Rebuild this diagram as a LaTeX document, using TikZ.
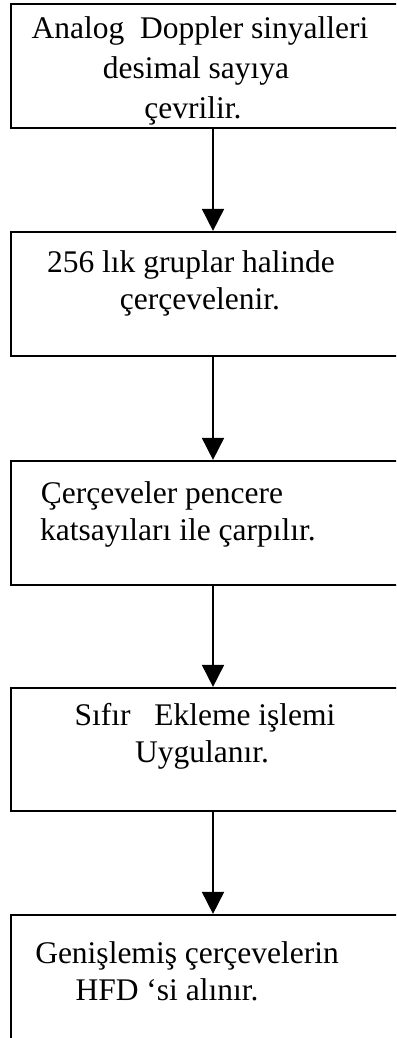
\documentclass[tikz,border=0pt]{standalone}
\usepackage{fontspec}
\setmainfont{Liberation Serif}
\usetikzlibrary{arrows.meta}
\begin{document}
\begin{tikzpicture}[x=1pt,y=-1pt,
  boxstyle/.style={draw=black,line width=2.2pt,rectangle,inner sep=0pt,minimum width=399pt},
  txt/.style={anchor=base,inner sep=0pt,font=\fontsize{31.5}{38}\selectfont},
  arr/.style={draw=black,line width=1.8pt,-{Triangle[width=22pt,length=22pt]}}]
\clip (0,0) rectangle (396,1038);
\fill[white] (0,0) rectangle (396,1038);
\coordinate (ax) at (213,0);
\node[boxstyle,minimum height=124pt] (b1) at (210.5,66) {};
\node[boxstyle,minimum height=124pt] (b2) at (210.5,294) {};
\node[boxstyle,minimum height=124pt] (b3) at (210.5,523) {};
\node[boxstyle,minimum height=123pt] (b4) at (210.5,749.5) {};
\node[boxstyle,minimum height=140pt] (b5) at (210.5,985) {};
\node[txt] (t11) at (200,39) {Analog\ \ Doppler sinyalleri};
\node[txt] (t12) at (196,79) {desimal sayıya};
\node[txt] (t13) at (193,118) {çevrilir.};
\node[txt] (t21) at (191,272) {256 lık gruplar halinde};
\node[txt] (t22) at (200,309) {çerçevelenir.};
\node[txt] (t31) at (162,503) {Çerçeveler pencere};
\node[txt] (t32) at (178,540) {katsayıları ile çarpılır.};
\node[txt] (t41) at (205,725) {Sıfır\ \ \ Ekleme işlemi};
\node[txt] (t42) at (202,762) {Uygulanır.};
\node[txt] (t51) at (187,963) {Genişlemiş çerçevelerin};
\node[txt] (t52) at (167,1000) {HFD ‘si alınır.};
\draw[arr] (b1.south -| ax) -- (b2.north -| ax);
\draw[arr] (b2.south -| ax) -- (b3.north -| ax);
\draw[arr] (b3.south -| ax) -- (b4.north -| ax);
\draw[arr] (b4.south -| ax) -- (b5.north -| ax);
\end{tikzpicture}
\end{document}
